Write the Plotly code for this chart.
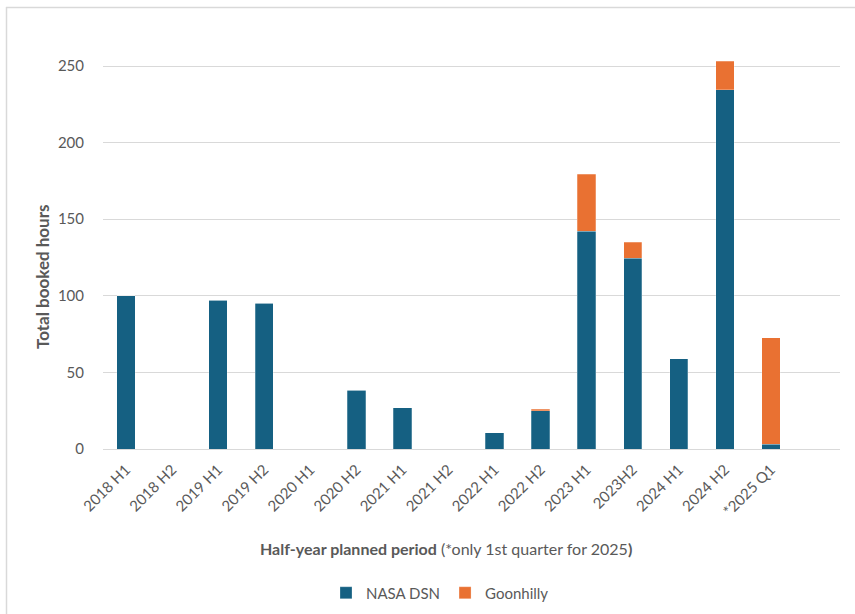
import plotly.graph_objects as go

categories = ["2018 H1", "2018 H2", "2019 H1", "2019 H2", "2020 H1", "2020 H2",
              "2021 H1", "2021 H2", "2022 H1", "2022 H2", "2023 H1", "2023H2",
              "2024 H1", "2024 H2", "*2025 Q1"]
nasa_dsn = [100, 0, 97, 95, 0, 38.5, 27, 0, 10.5, 25, 142, 124.5, 59, 234.5, 3]
goonhilly = [0, 0, 0, 0, 0, 0, 0, 0, 0, 1, 37.5, 10.5, 0, 18.5, 69.5]

W, H = 855, 614
L, R, T, B = 103, 15, 40, 165
pw, ph = W - L - R, H - T - B

font = "Lato, 'Open Sans', sans-serif"
grey = "#595959"

def px_x(x):
    return (x - L) / pw

def px_y(y):
    return (H - B - y) / ph

fig = go.Figure()
fig.add_trace(go.Bar(x=categories, y=nasa_dsn, name="NASA DSN",
                     marker=dict(color="#156082", line=dict(color="rgba(255,255,255,0.5)", width=0.5)),
                     width=0.4))
fig.add_trace(go.Bar(x=categories, y=goonhilly, name="Goonhilly",
                     marker=dict(color="#E97132", line=dict(color="rgba(255,255,255,0.5)", width=0.5)),
                     width=0.4))

fig.update_layout(
    barmode="stack",
    width=W, height=H,
    margin=dict(l=L, r=R, t=T, b=B, autoexpand=False),
    paper_bgcolor="white", plot_bgcolor="white",
    font=dict(family=font, color=grey, size=15),
    showlegend=True,
    legend=dict(orientation="h", x=px_x(326), xanchor="left", y=px_y(593), yanchor="middle",
                font=dict(size=15, color=grey), traceorder="normal", itemwidth=30),
    xaxis=dict(
        type="category", range=[-0.5, 15.5], tickangle=-45, automargin=False,
        tickfont=dict(size=15, color=grey), showgrid=False, ticklabelstandoff=5,
        showline=True, linecolor="#D9D9D9", linewidth=1, ticks="",
    ),
    yaxis=dict(
        range=[0, (449 - T) / 1.532], tickvals=[0, 50, 100, 150, 200, 250], automargin=False,
        showgrid=True, gridcolor="#D9D9D9", gridwidth=1, zeroline=False,
        tickfont=dict(size=15, color=grey), ticks="", ticklabelstandoff=18,
    ),
    annotations=[
        dict(text="<b>Total booked hours</b>", xref="paper", yref="paper",
             x=px_x(42), y=px_y(277), xanchor="center", yanchor="middle",
             textangle=-90, showarrow=False, font=dict(size=17, color=grey)),
        dict(text="<b>Half-year planned period</b> (*only 1st quarter for 2025<b>)</b>",
             xref="paper", yref="paper", x=px_x(446), y=px_y(548),
             xanchor="center", yanchor="middle", showarrow=False,
             font=dict(size=16, color=grey)),
    ],
    shapes=[
        dict(type="line", xref="paper", yref="paper",
             x0=px_x(6), x1=px_x(W + 20), y0=px_y(7.5), y1=px_y(7.5),
             line=dict(color="#D9D9D9", width=1.5), layer="below"),
        dict(type="line", xref="paper", yref="paper",
             x0=px_x(6.5), x1=px_x(6.5), y0=px_y(7), y1=px_y(H + 20),
             line=dict(color="#D9D9D9", width=1.5), layer="below"),
    ],
)

fig.write_html("out.html")
